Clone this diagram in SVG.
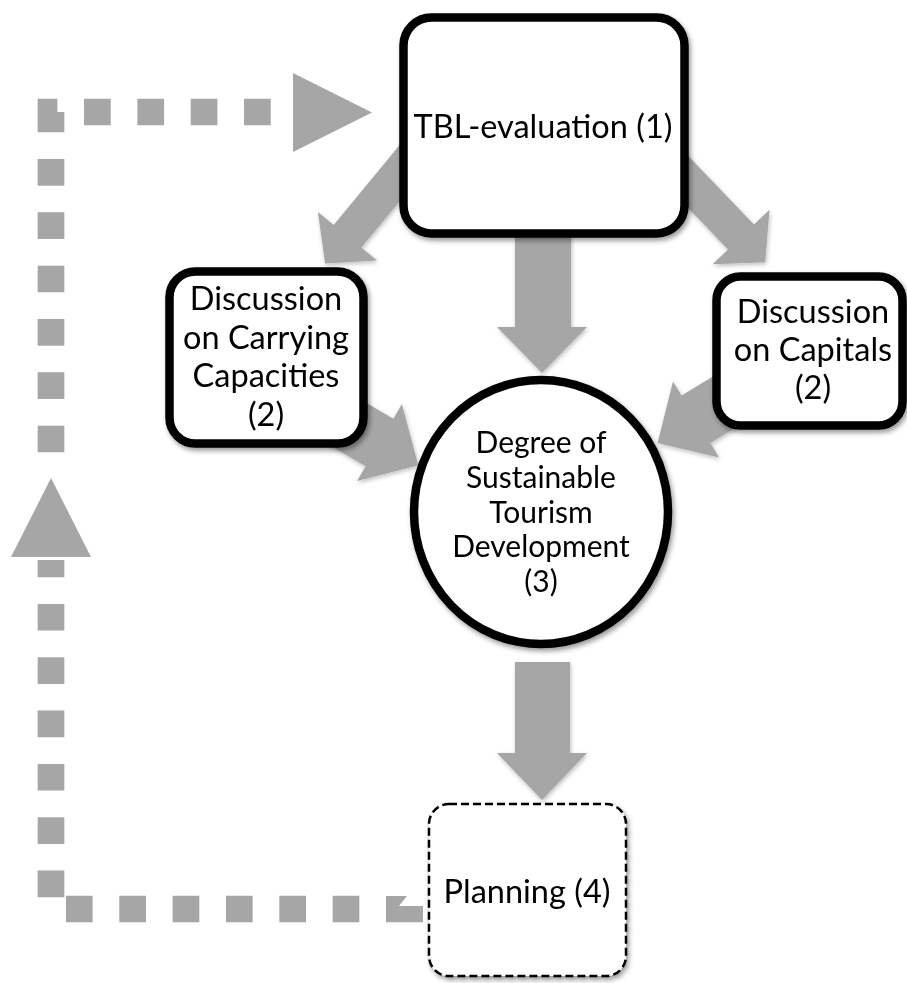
<svg xmlns="http://www.w3.org/2000/svg" width="907" height="983" viewBox="0 0 907 983">
  <defs>
    <filter id="sh" x="-20%" y="-20%" width="140%" height="140%">
      <feDropShadow dx="2" dy="3" stdDeviation="2.5" flood-color="#000" flood-opacity="0.4"/>
    </filter>
    <filter id="ash" x="-20%" y="-20%" width="140%" height="140%">
      <feDropShadow dx="1" dy="2" stdDeviation="2" flood-color="#000" flood-opacity="0.25"/>
    </filter>
  </defs>
  <style>
    .arrow { fill: #a6a6a6; }
    .dash { fill: none; stroke: #a6a6a6; stroke-width: 26.67; stroke-dasharray: 26.67 26.67; stroke-linejoin: miter; }
    .box { fill: #fff; stroke: #000; stroke-width: 8.5; }
    .plan { fill: #fff; stroke: #000; stroke-width: 2.5; stroke-dasharray: 8 4; }
    .t { font-family: Lato, "Liberation Sans", sans-serif; font-size: 32.5px; fill: #000; text-anchor: middle; }
    .tc { font-family: Lato, "Liberation Sans", sans-serif; font-size: 30px; fill: #000; text-anchor: middle; }
  </style>

  <g id="connectors">
    <!-- feedback loop -->
    <path class="dash" d="M51,452.33 V112 H300"/>
    <polygon class="arrow" points="293,73 372,112.5 293,152"/>
    <path class="dash" d="M386,909 H51 V560" stroke-dashoffset="26.67"/>
    <polygon class="arrow" points="386,896 407,896 399,906 423,906 423,922.3 386,922.3"/>
    <polygon class="arrow" points="51,478 91,557 11,557"/>
    <!-- block arrows -->
    <g filter="url(#ash)">
      <polygon class="arrow" points="515,230 571,230 571,327 587,327 542,373 497,327 515,327"/>
      <polygon class="arrow" points="515,662 570,662 570,753 587,753 542,800 497,753 515,753"/>
      <polygon class="arrow" points="410,132.5 437.8,155.5 361.3,247.5 377.1,260.5 325.1,263.4 317.9,211.9 333.7,225"/>
      <polygon class="arrow" points="671,138 645,163 728,249.5 712.5,264.3 765.2,262.3 769.5,209.7 754,224.5"/>
      <polygon class="arrow" points="306.9,368.3 279.1,415.7 365.6,466.2 357.1,480.9 418.3,465.2 401.9,404.1 393.4,418.8"/>
      <polygon class="arrow" points="766.9,343.7 795.7,390.7 710.4,443 719,457.5 657.6,443 673,381.5 681.6,395.5"/>
    </g>
  </g>

  <g id="tbl" filter="url(#sh)">
    <rect class="box" x="403.5" y="17.5" width="281" height="216" rx="28"/>
    <text class="t" x="543" y="138" font-size="32">TBL-evaluation (1)</text>
  </g>

  <g id="carrying" filter="url(#sh)">
    <rect class="box" x="169.5" y="271.5" width="194" height="172" rx="26"/>
    <text class="t" x="266" y="310">Discussion</text>
    <text class="t" x="266" y="348.5">on Carrying</text>
    <text class="t" x="266" y="387">Capacities</text>
    <text class="t" x="266" y="425.5">(2)</text>
  </g>

  <g id="capitals" filter="url(#sh)">
    <rect class="box" x="716.5" y="276.5" width="186" height="149" rx="24"/>
    <text class="t" x="813" y="323">Discussion</text>
    <text class="t" x="813" y="361">on Capitals</text>
    <text class="t" x="813" y="399">(2)</text>
  </g>

  <g id="degree" filter="url(#sh)">
    <ellipse cx="541" cy="512" rx="127" ry="132" fill="#fff" stroke="#000" stroke-width="8.5"/>
    <text class="tc" x="541" y="453">Degree of</text>
    <text class="tc" x="541" y="488">Sustainable</text>
    <text class="tc" x="541" y="523">Tourism</text>
    <text class="tc" x="541" y="557">Development</text>
    <text class="tc" x="541" y="592">(3)</text>
  </g>

  <g id="planning" filter="url(#sh)">
    <rect class="plan" x="429" y="804" width="197" height="172" rx="20"/>
    <text class="t" x="527" y="903">Planning (4)</text>
  </g>
</svg>
